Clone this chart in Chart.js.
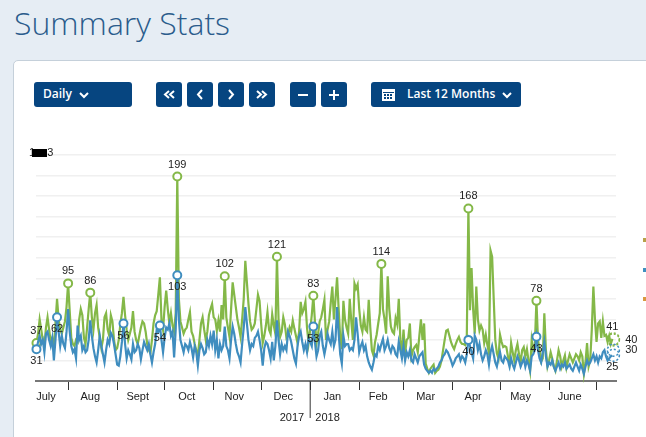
<!DOCTYPE html>
<html>
<head>
<meta charset="utf-8">
<title>Summary Stats</title>
<script src="https://cdn.jsdelivr.net/npm/chart.js@4"></script>
<style>
html, body { margin: 0; padding: 0; width: 646px; height: 437px; overflow: hidden; background: #e6edf4; font-family: "Open Sans", sans-serif; }
h1 { position: absolute; left: 14px; top: 0; margin: 0; font-size: 32px; line-height: 46px; font-weight: 300; color: #2b5c8c; }
.panel { position: absolute; left: 13px; top: 60px; width: 700px; height: 450px; background: #fff; border: 1px solid #c5d0da; border-radius: 5px; box-sizing: border-box; }
.btn { position: absolute; top: 82px; height: 25px; background: #064580; border-radius: 3px; color: #fff; font-size: 12px; font-weight: 600; line-height: 24px; box-sizing: border-box; display: block; }
.btn svg { position: absolute; top: 0; left: 0; }
.btn span { position: absolute; top: 0; white-space: nowrap; }
.stub { position: absolute; left: 643px; width: 3px; height: 4px; }
#topLabel { position: absolute; left: 29px; top: 145px; font: 11px "Liberation Sans", sans-serif; line-height: 14px; color: #222; white-space: nowrap; }
#topLabel i { display: inline-block; width: 15px; height: 8px; background: #000; vertical-align: -1px; margin-left: -3px; }
canvas { position: absolute; left: 0; top: 0; }
</style>
</head>
<body>
<h1>Summary Stats</h1>
<div class="panel"></div>

<div class="btn" style="left:34px;width:98px"><span style="left:9px">Daily</span>
  <svg width="98" height="25"><polyline points="46,11 50,15 54,11" fill="none" stroke="#fff" stroke-width="2"/></svg></div>
<div class="btn" style="left:156px;width:26px"><svg width="26" height="25"><polyline points="13,9 9,12.5 13,16 M" fill="none" stroke="#fff" stroke-width="2"/><polyline points="18,9 14,12.5 18,16" fill="none" stroke="#fff" stroke-width="2"/></svg></div>
<div class="btn" style="left:187px;width:26px"><svg width="26" height="25"><polyline points="15,8 11,12.5 15,17" fill="none" stroke="#fff" stroke-width="2"/></svg></div>
<div class="btn" style="left:218px;width:26px"><svg width="26" height="25"><polyline points="11,8 15,12.5 11,17" fill="none" stroke="#fff" stroke-width="2"/></svg></div>
<div class="btn" style="left:249px;width:26px"><svg width="26" height="25"><polyline points="8,9 12,12.5 8,16" fill="none" stroke="#fff" stroke-width="2"/><polyline points="13,9 17,12.5 13,16" fill="none" stroke="#fff" stroke-width="2"/></svg></div>
<div class="btn" style="left:290px;width:26px"><svg width="26" height="25"><line x1="8" y1="13" x2="18" y2="13" stroke="#fff" stroke-width="2"/></svg></div>
<div class="btn" style="left:321px;width:26px"><svg width="26" height="25"><line x1="8" y1="13" x2="18" y2="13" stroke="#fff" stroke-width="2"/><line x1="13" y1="8" x2="13" y2="18" stroke="#fff" stroke-width="2"/></svg></div>
<div class="btn" style="left:371px;width:150px"><span style="left:36px">Last 12 Months</span>
  <svg width="150" height="25"><rect x="11" y="7" width="13" height="12" fill="#fff"/><rect x="12" y="10" width="11" height="1" fill="#064580"/><rect x="13" y="12" width="2" height="2" fill="#064580"/><rect x="16" y="12" width="2" height="2" fill="#064580"/><rect x="19" y="12" width="2" height="2" fill="#064580"/><rect x="13" y="15" width="2" height="2" fill="#064580"/><rect x="16" y="15" width="2" height="2" fill="#064580"/><rect x="19" y="15" width="2" height="2" fill="#064580"/><polyline points="132,11 136,15 140,11" fill="none" stroke="#fff" stroke-width="2"/></svg></div>

<canvas id="statsChart" width="646" height="437"></canvas>
<div id="topLabel">1<i></i>3</div>
<div class="stub" style="top:238px;background:#b8a04a"></div>
<div class="stub" style="top:268px;background:#3f8fc0"></div>
<div class="stub" style="top:297px;background:#d9983f"></div>

<script>
"use strict"

// one value per day, starting 12 July 2017, ten values a row
const greenValues = [
    37,46,60,50,40,34,52,62,50,38,
    42,30,56,80,60,50,46,52,58,72,
    95,68,42,36,34,40,38,60,70,64,
    42,36,52,70,86,62,50,66,74,52,
    42,32,40,62,66,50,44,64,58,40,
    30,32,40,55,66,82,64,50,40,46,
    52,68,48,40,36,44,52,58,56,48,
    36,30,27,40,56,64,68,84,101,60,
    50,72,88,70,56,66,54,48,66,199,
    80,58,52,46,50,52,60,67,48,44,
    36,30,24,40,56,62,50,40,48,64,
    70,75,62,60,49,59,48,74,60,102,
    62,52,43,70,96,84,72,60,52,43,
    60,80,117,96,75,58,50,52,56,70,
    84,78,56,37,44,54,67,50,46,65,
    54,46,121,60,43,48,62,55,42,44,
    52,48,59,51,44,37,48,77,66,70,
    77,52,37,50,64,83,58,37,46,58,
    62,70,79,40,50,58,76,92,60,80,
    101,70,42,31,78,60,52,46,80,58,
    40,95,90,94,70,54,48,62,50,48,
    79,52,30,25,38,45,56,66,114,70,
    60,46,102,70,53,48,46,61,55,80,
    40,27,50,27,40,42,56,24,30,33,
    35,28,44,60,40,56,17,12,8,12,
    14,16,8,10,11,14,20,30,40,49,
    50,44,38,34,31,36,40,43,38,36,
    36,35,44,168,69,110,70,46,92,60,
    49,54,50,37,45,35,27,127,121,80,
    40,27,22,45,38,33,34,33,24,17,
    37,28,20,30,36,26,18,30,33,24,
    31,20,10,40,30,35,78,40,30,19,
    22,66,30,14,20,28,22,14,10,20,
    30,24,14,20,25,13,20,26,22,18,
    22,26,24,20,28,24,7,18,37,14,
    20,50,92,60,38,56,58,42,58,44,
    45,38,44,36,41
];
const blueValues = [
    31,38,44,36,40,28,46,48,40,34,
    42,20,40,62,48,34,44,36,32,48,
    70,48,34,28,31,22,54,40,44,30,
    34,28,30,40,59,44,32,24,18,30,
    44,34,26,18,30,40,36,47,44,36,
    26,16,15,24,38,56,36,22,30,26,
    21,36,28,30,36,32,21,30,38,34,
    30,36,26,18,28,36,50,48,54,40,
    28,42,52,50,56,44,48,23,50,103,
    60,40,34,28,36,34,30,38,32,23,
    34,28,15,30,36,32,26,28,40,34,
    44,36,49,30,40,22,36,30,34,53,
    34,30,22,40,53,46,36,28,24,18,
    36,52,72,56,40,30,36,34,42,44,
    48,40,30,15,32,38,36,30,22,38,
    20,34,59,40,26,36,30,34,30,48,
    44,38,30,22,17,34,44,48,38,30,
    36,28,42,38,34,53,38,24,30,44,
    48,34,26,34,46,40,36,48,34,40,
    72,46,26,17,44,34,36,36,30,32,
    30,40,62,46,28,34,38,30,34,24,
    18,14,11,18,26,24,34,30,36,41,
    30,34,40,32,28,34,32,26,24,38,
    30,22,34,20,28,24,30,20,18,26,
    22,18,24,26,28,16,12,10,8,10,
    8,12,10,12,14,18,20,24,26,30,
    28,24,20,15,18,22,24,26,20,24,
    22,18,26,40,34,28,22,44,40,30,
    36,26,20,24,30,26,16,28,34,26,
    18,14,22,28,20,18,24,22,20,14,
    22,16,12,18,24,20,14,18,22,14,
    20,16,10,24,26,30,43,30,22,18,
    28,38,24,14,18,16,20,14,10,14,
    18,12,16,14,18,12,14,16,12,10,
    14,18,14,10,16,12,7,14,20,16,
    18,22,26,20,24,18,24,22,28,30,
    24,20,22,24,25
];

// days that carry a ring and a number
const greenMarked = [0, 20, 34, 89, 119, 152, 175, 218, 273, 316];
const blueMarked = [0, 13, 55, 78, 89, 175, 273, 316];

// first day of each month, counted from the first point
const monthStarts = [20, 51, 81, 112, 142, 173, 204, 232, 263, 293, 324, 354];
const yearBreak = 173;
const monthNames = ["July", "Aug", "Sept", "Oct", "Nov", "Dec", "Jan", "Feb", "Mar", "Apr", "May", "June"];
const monthLabelDays = [6, 34, 64, 95, 125, 156, 187, 216, 246, 276, 306, 337];
const yearNames = ["2017", "2018"];
const yearLabelDays = [161.5, 184];

// last day and the projected value, drawn as dotted rings
const lastDay = 364;
const greenProjected = 40;
const blueProjected = 30;

const GREEN = "#84b848";
const BLUE = "#3f8dbf";

function toPoints(values) {
    return values.map((v, i) => ({ x: i, y: v }));
}

function pointRadius(marked) {
    return function (c) {
        return marked.includes(c.dataIndex) ? 4 : 0;
    };
}

// Labels, dotted rings and the long year tick
const chartExtras = {
    id: "chartExtras",
    afterDatasetsDraw(chart) {
        const ctx = chart.ctx;
        const x = chart.scales.x;
        const y = chart.scales.y;

        ctx.save();
        ctx.font = '11px "Liberation Sans"';
        ctx.fillStyle = "#222";
        ctx.textAlign = "center";
        ctx.textBaseline = "middle";
        greenMarked.forEach(i => {
            ctx.fillText(greenValues[i], x.getPixelForValue(i), y.getPixelForValue(greenValues[i]) - 12);
        });
        blueMarked.forEach(i => {
            ctx.fillText(blueValues[i], x.getPixelForValue(i), y.getPixelForValue(blueValues[i]) + 12);
        });
        ctx.fillText(greenValues[lastDay], x.getPixelForValue(lastDay), y.getPixelForValue(greenValues[lastDay]) - 12);
        ctx.fillText(blueValues[lastDay], x.getPixelForValue(lastDay), y.getPixelForValue(blueValues[lastDay]) + 12);
        ctx.fillText(greenProjected, x.getPixelForValue(lastDay) + 19, y.getPixelForValue(greenProjected));
        ctx.fillText(blueProjected, x.getPixelForValue(lastDay) + 19, y.getPixelForValue(blueProjected));

        // dotted rings at the end of the lines
        ctx.lineWidth = 1.5;
        ctx.setLineDash([2, 2]);
        [[greenValues[lastDay], GREEN], [greenProjected, GREEN], [blueValues[lastDay], BLUE], [blueProjected, BLUE]].forEach(r => {
            ctx.strokeStyle = r[1];
            ctx.beginPath();
            ctx.arc(x.getPixelForValue(lastDay) + 1, y.getPixelForValue(r[0]), 6, 0, Math.PI * 2);
            ctx.stroke();
        });
        ctx.setLineDash([]);

        // the tick between 2017 and 2018 runs down past the year row
        const breakX = x.getPixelForValue(yearBreak);
        ctx.strokeStyle = "#333";
        ctx.lineWidth = 1;
        ctx.beginPath();
        ctx.moveTo(breakX, chart.chartArea.bottom);
        ctx.lineTo(breakX, 418);
        ctx.stroke();
        ctx.restore();
    }
};

function labelAxis(weight, days, names, height) {
    return {
        type: "linear",
        position: "bottom",
        weight: weight,
        min: -0.3,
        max: 366.3,
        grid: { display: false, drawTicks: false },
        border: { display: false },
        afterBuildTicks: function (scale) {
            scale.ticks = days.map(d => ({ value: d }));
        },
        afterFit: function (scale) {
            scale.height = height;
        },
        ticks: {
            autoSkip: false,
            maxRotation: 0,
            padding: 0,
            color: "#222",
            font: { size: 11 },
            callback: function (value) {
                return names[days.indexOf(value)];
            }
        }
    };
}

Chart.defaults.font.family = '"Liberation Sans", Arial, sans-serif';

new Chart(document.getElementById("statsChart").getContext("2d"), {
    type: "line",
    plugins: [chartExtras],
    data: {
        datasets: [{
            data: toPoints(blueValues),
            borderColor: BLUE,
            borderWidth: 2.2,
            tension: 0,
            pointRadius: pointRadius(blueMarked),
            pointBorderWidth: 2,
            pointBorderColor: BLUE,
            pointBackgroundColor: "#fff",
            clip: false
        }, {
            data: toPoints(greenValues),
            borderColor: GREEN,
            borderWidth: 2.2,
            tension: 0,
            pointRadius: pointRadius(greenMarked),
            pointBorderWidth: 2,
            pointBorderColor: GREEN,
            pointBackgroundColor: "#fff",
            clip: false
        }]
    },
    options: {
        responsive: false,
        animation: false,
        devicePixelRatio: 1,
        layout: { padding: { left: 36, right: 30, top: 155, bottom: 5 } },
        plugins: { legend: { display: false }, tooltip: { enabled: false } },
        scales: {
            x: {
                type: "linear",
                position: "bottom",
                weight: 0,
                min: -0.3,
                max: 366.3,
                grid: { drawOnChartArea: false, tickLength: 9, tickColor: "#333", tickWidth: 1 },
                border: { color: "#777", width: 2 },
                afterBuildTicks: function (scale) {
                    scale.ticks = monthStarts.map(d => ({ value: d }));
                },
                afterFit: function (scale) {
                    scale.height = 9;
                },
                ticks: { autoSkip: false, maxRotation: 0, callback: () => "" }
            },
            xMonths: labelAxis(1, monthLabelDays, monthNames, 21),
            xYears: labelAxis(2, yearLabelDays, yearNames, 21),
            y: {
                min: 0,
                max: 220,
                grid: { color: "#f0f0f0", lineWidth: 1.5, drawTicks: false },
                border: { display: false },
                afterFit: function (scale) {
                    scale.width = 0;
                },
                ticks: { display: false, stepSize: 20 }
            }
        }
    }
});
</script>
</body>
</html>
